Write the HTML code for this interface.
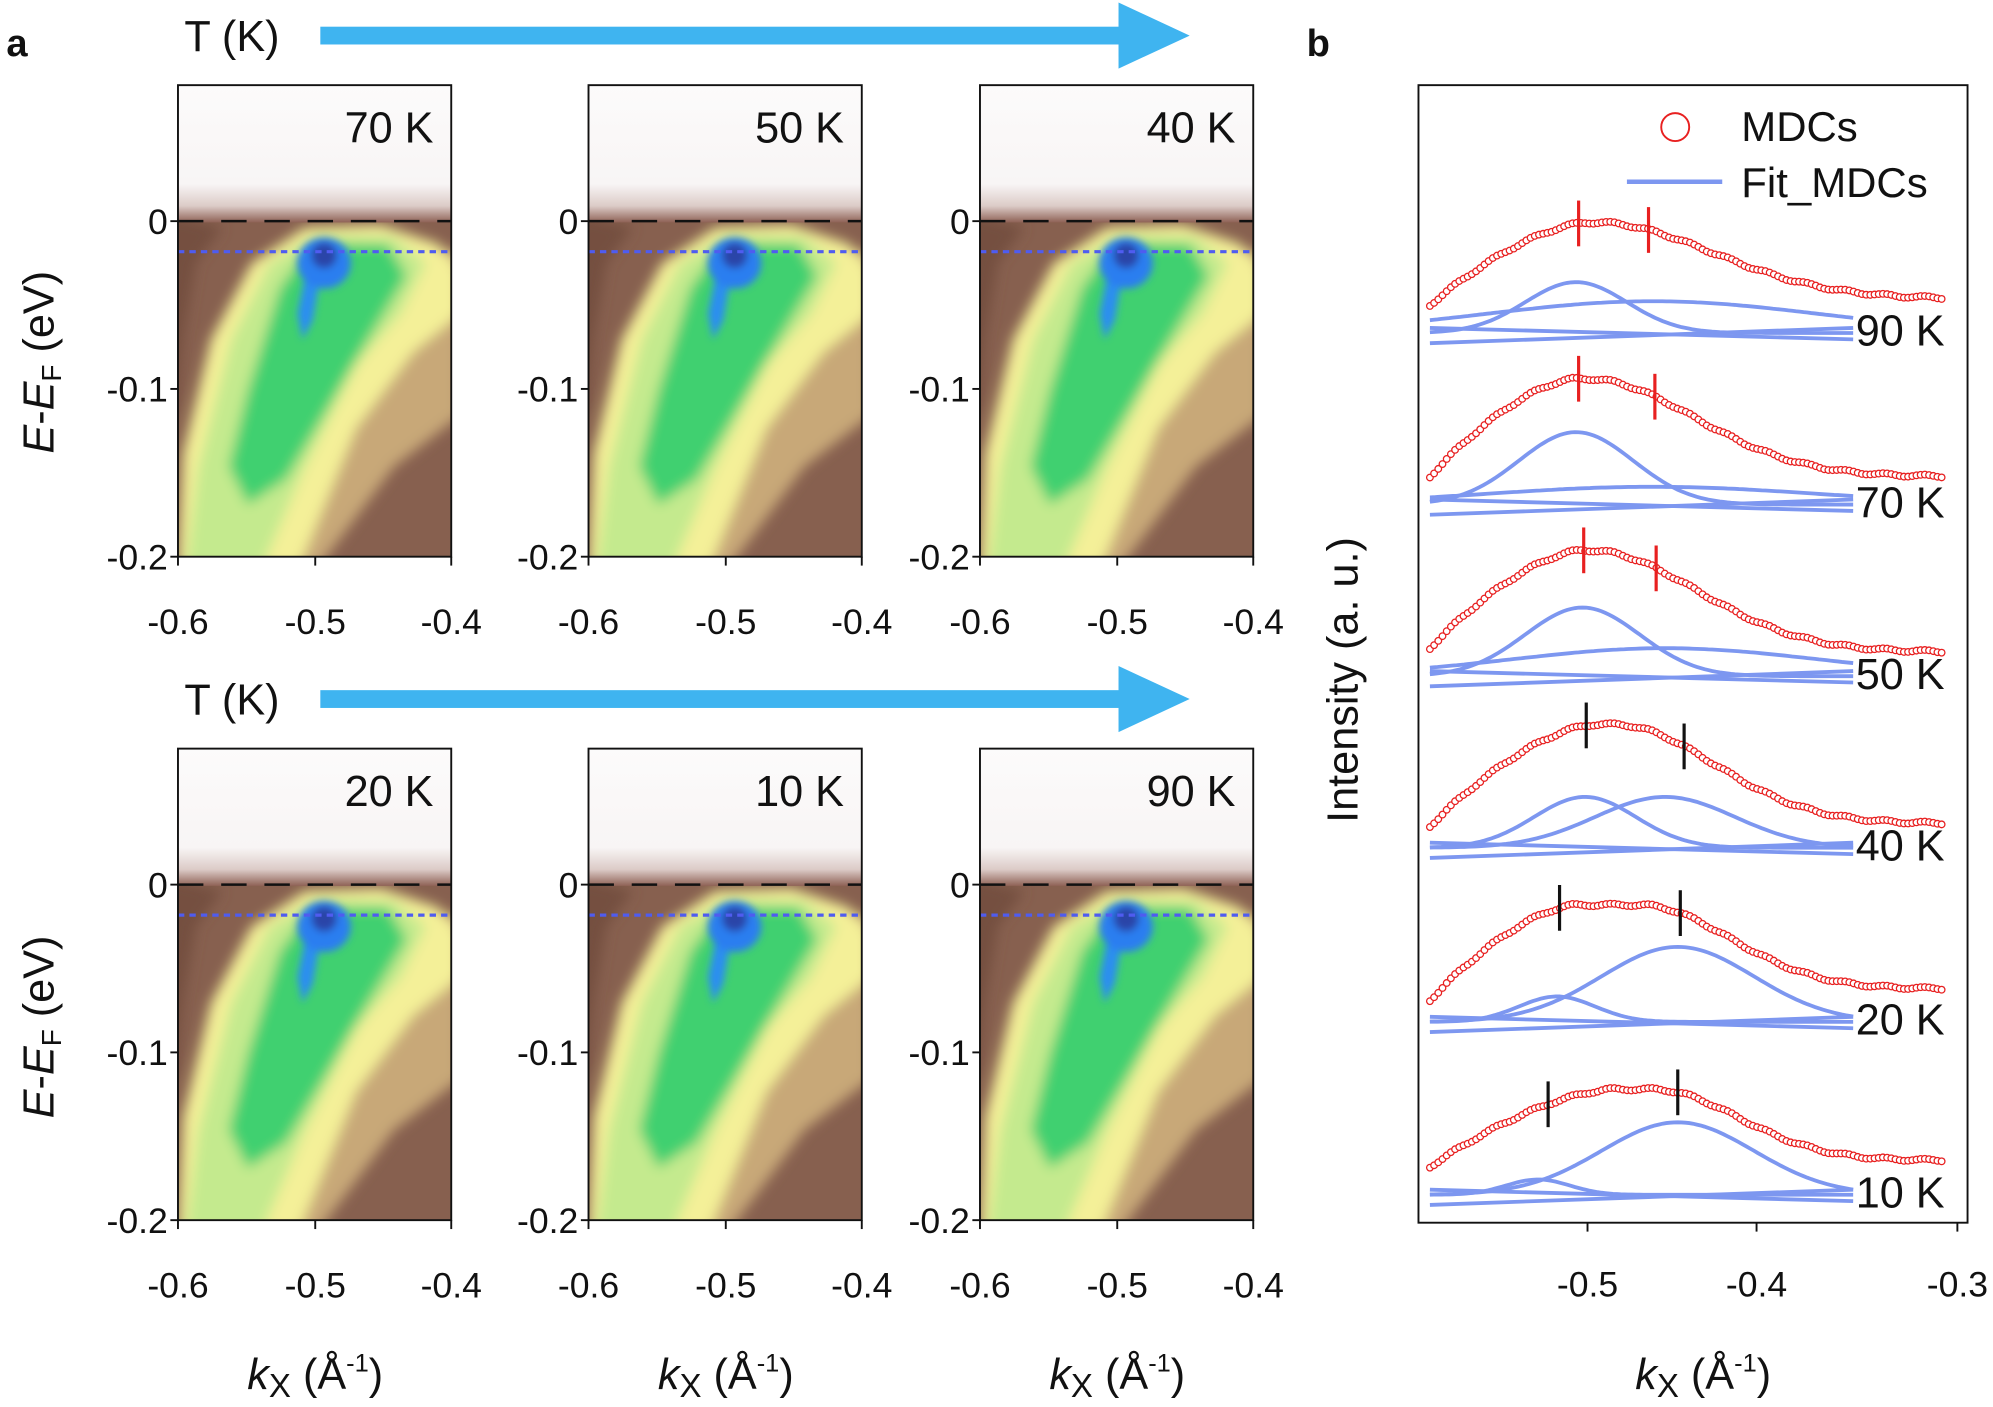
<!DOCTYPE html>
<html><head><meta charset="utf-8"><style>
html,body{margin:0;padding:0;background:#fff}
svg{display:block}
text{font-family:"Liberation Sans",Arial,sans-serif;fill:#111}
</style></head><body>
<svg id="s" width="1993" height="1407" viewBox="0 0 1568 1107" xmlns="http://www.w3.org/2000/svg">
<defs>
<filter id="bl" x="-20%" y="-20%" width="140%" height="140%"><feGaussianBlur stdDeviation="5"/></filter>
<filter id="bl2" x="-30%" y="-30%" width="160%" height="160%"><feGaussianBlur stdDeviation="3"/></filter>
<linearGradient id="top" x1="0" y1="0" x2="0" y2="1">
<stop offset="0" stop-color="#fcfbfb"/><stop offset="0.72" stop-color="#f8f5f5"/><stop offset="0.88" stop-color="#dccbc7"/><stop offset="1" stop-color="#8f6256"/>
</linearGradient>
<clipPath id="cp"><rect x="0" y="0" width="215" height="371"/></clipPath>
<g id="heat">
<g clip-path="url(#cp)">
<rect x="0" y="0" width="215" height="371" fill="#87604f"/>
<g filter="url(#bl)">
<polygon fill="#c8a878" points="30,380 110,250 200,130 222,130 222,260 170,300 110,380"/>
<polygon fill="#f4f098" points="0,380 4,290 26,200 58,140 100,112 160,110 205,125 222,145 222,180 185,210 140,270 95,380"/>
<polygon fill="#c4ea8e" points="6,380 16,300 42,200 72,140 110,118 170,120 195,140 175,180 140,220 100,300 66,380"/>
<polygon fill="#3fd070" points="40,300 55,240 80,160 105,125 165,125 180,150 150,200 115,260 85,310 55,330"/>
<polygon fill="#74503f" points="-10,100 35,112 14,140 4,200 -2,260 -10,260"/>
</g>
<g filter="url(#bl2)">
<polygon fill="#2a8ef0" points="100,150 112,150 106,185 98,200 94,180"/>
<ellipse cx="115" cy="140" rx="21" ry="20" fill="#2a7ef0"/>
<ellipse cx="115" cy="134" rx="10" ry="10" fill="#2a45a8"/>
</g>
<rect x="0" y="0" width="215" height="108" fill="url(#top)"/>
</g>
<line x1="0" y1="107" x2="215" y2="107" stroke="#111" stroke-width="2" stroke-dasharray="20,14"/>
<line x1="0" y1="131" x2="215" y2="131" stroke="#4f5cf0" stroke-width="2.5" stroke-dasharray="5,4"/>
<rect x="0" y="0" width="215" height="371" fill="none" stroke="#111" stroke-width="1.5"/>
</g>
</defs>
<text x="5" y="44" font-size="30" font-weight="bold">a</text>
<text x="1028" y="44" font-size="30" font-weight="bold">b</text>
<g id="pa"></g>
<g id="pb"></g>
</svg>
<script>
var NS="http://www.w3.org/2000/svg";
function el(p,t,a,txt){var e=document.createElementNS(NS,t);for(var k in a)e.setAttribute(k,a[k]);if(txt!==undefined)e.textContent=txt;p.appendChild(e);return e;}
var pa=document.getElementById('pa');
function arrow(y){
 el(pa,'text',{x:145,y:y+12,'font-size':34},'T (K)');
 el(pa,'rect',{x:252,y:y-7,width:632,height:14,fill:'#3fb4f0'});
 el(pa,'polygon',{points:'880,'+(y-26)+' 936,'+y+' 880,'+(y+26),fill:'#3fb4f0'});
}
arrow(28);arrow(550);
var xs=[140,463,771],labs=[['70 K','50 K','40 K'],['20 K','10 K','90 K']],ys=[67,589];
for(var r=0;r<2;r++){for(var c=0;c<3;c++){
 var x=xs[c],y=ys[r];
 el(pa,'use',{href:'#heat',x:x,y:y});
 el(pa,'text',{x:x+201,y:y+45,'font-size':34,'text-anchor':'end'},labs[r][c]);
 var y0=y+107;
 [[0,'0'],[132,'-0.1'],[264,'-0.2']].forEach(function(t){
  el(pa,'line',{x1:x-6,x2:x,y1:y0+t[0],y2:y0+t[0],stroke:'#111','stroke-width':1.5});
  el(pa,'text',{x:x-8,y:y0+t[0]+10,'font-size':28,'text-anchor':'end'},t[1]);
 });
 [[0,'-0.6'],[108,'-0.5'],[215,'-0.4']].forEach(function(t){
  el(pa,'line',{x1:x+t[0],x2:x+t[0],y1:y+371,y2:y+378,stroke:'#111','stroke-width':1.5});
  el(pa,'text',{x:x+t[0],y:y+432,'font-size':28,'text-anchor':'middle'},t[1]);
 });
 if(r==1){var tx=el(pa,'text',{x:x+108,y:1093,'font-size':34,'text-anchor':'middle'});
  tx.innerHTML='<tspan font-style="italic">k</tspan><tspan font-size="26" dy="6">X</tspan><tspan dy="-6"> (Å</tspan><tspan font-size="20" dy="-14">-1</tspan><tspan dy="14">)</tspan>';}
}
 var cy=r==0?285:808;
 var t=el(pa,'text',{x:0,y:0,'font-size':34,'text-anchor':'middle',transform:'translate(42,'+cy+') rotate(-90)'});
 t.innerHTML='<tspan font-style="italic">E</tspan>-<tspan font-style="italic">E</tspan><tspan font-size="22" dy="6">F</tspan><tspan dy="-6"> (eV)</tspan>';
}
var pb=document.getElementById('pb');
el(pb,'rect',{x:1116,y:67,width:432,height:895,fill:'none',stroke:'#111','stroke-width':1.5});
[[1249,'-0.5'],[1382,'-0.4'],[1540,'-0.3']].forEach(function(t){
 el(pb,'line',{x1:t[0],x2:t[0],y1:962,y2:969,stroke:'#111','stroke-width':1.5});
 el(pb,'text',{x:t[0],y:1020,'font-size':28,'text-anchor':'middle'},t[1]);
});
var tx=el(pb,'text',{x:1340,y:1093,'font-size':34,'text-anchor':'middle'});
tx.innerHTML='<tspan font-style="italic">k</tspan><tspan font-size="26" dy="6">X</tspan><tspan dy="-6"> (Å</tspan><tspan font-size="20" dy="-14">-1</tspan><tspan dy="14">)</tspan>';
el(pb,'text',{x:0,y:0,'font-size':34,'text-anchor':'middle',transform:'translate(1068,535) rotate(-90)'},'Intensity (a. u.)');
el(pb,'circle',{cx:1318,cy:100,r:11,fill:'#fff',stroke:'#e82020','stroke-width':1.5});
el(pb,'text',{x:1370,y:111,'font-size':33},'MDCs');
el(pb,'line',{x1:1280,x2:1355,y1:143,y2:143,stroke:'#7d97f0','stroke-width':3.5});
el(pb,'text',{x:1370,y:155,'font-size':33},'Fit_MDCs');
var C=[
[270,30,1250,1255,95,35,130, 1240,40,40, 1300,25,130, 1242,1297,'#e82020','90 K'],
[405,30,1240,1248,107,30,120, 1240,57,45, 1300,14,130, 1242,1302,'#e82020','70 K'],
[540,30,1245,1250,107,27,120, 1245,54,45, 1310,22,120, 1246,1303,'#e82020','50 K'],
[675,25,1255,1270,105,27,110, 1247,40,40, 1310,40,55, 1248,1325,'#111','40 K'],
[812,25,1240,1290,100,34,100, 1225,20,30, 1320,59,60, 1227,1322,'#111','20 K'],
[948,30,1270,1300,91,35,95, 1210,12,25, 1320,57,60, 1218,1320,'#111','10 K']];
function G(x,c,A,s){return A*Math.exp(-0.5*Math.pow((x-c)/s,2));}
C.forEach(function(p){
 var y0=p[0];
 function T(x){
  if(x<p[2]){var u=(p[2]-x)/(p[2]-1125);return p[1]+(p[4]-p[1])*(1-Math.pow(u,1.6));}
  if(x<=p[3])return p[4];
  return p[5]+(p[4]-p[5])*Math.exp(-Math.pow((x-p[3])/p[6],2));
 }
 function comp(f){var d='';for(var x=1125;x<=1458;x+=3)d+=(x==1125?'M':'L')+x+','+(y0-f(x)).toFixed(1);return d;}
 var st={fill:'none',stroke:'#7d97f0','stroke-width':3};
 el(pb,'path',Object.assign({d:'M1125,'+(y0)+'L1458,'+(y0-12)},st));
 el(pb,'path',Object.assign({d:'M1125,'+(y0-12)+'L1458,'+(y0-3)},st));
 el(pb,'path',Object.assign({d:comp(function(x){return 8+G(x,p[7],p[8],p[9]);})},st));
 el(pb,'path',Object.assign({d:comp(function(x){return 8+G(x,p[10],p[11],p[12]);})},st));
 var d='';for(var x=1125;x<=1530;x+=3)d+=(x==1125?'M':'L')+x+','+(y0-T(x)).toFixed(1);
 el(pb,'path',Object.assign({d:d},st));
 for(var x=1125;x<=1530;x+=3.3){
  var n=Math.sin(x*1.7)*1.0;
  el(pb,'circle',{cx:x.toFixed(1),cy:(y0-T(x)+n).toFixed(1),r:2.6,fill:'#fff',stroke:'#e82020','stroke-width':1});
 }
 [p[13],p[14]].forEach(function(tx){var yy=y0-T(tx);
  el(pb,'line',{x1:tx,x2:tx,y1:yy-18,y2:yy+18,stroke:p[15],'stroke-width':2.5});});
 el(pb,'text',{x:1460,y:y0+2,'font-size':34},p[16]);
});
</script>
</body></html>
